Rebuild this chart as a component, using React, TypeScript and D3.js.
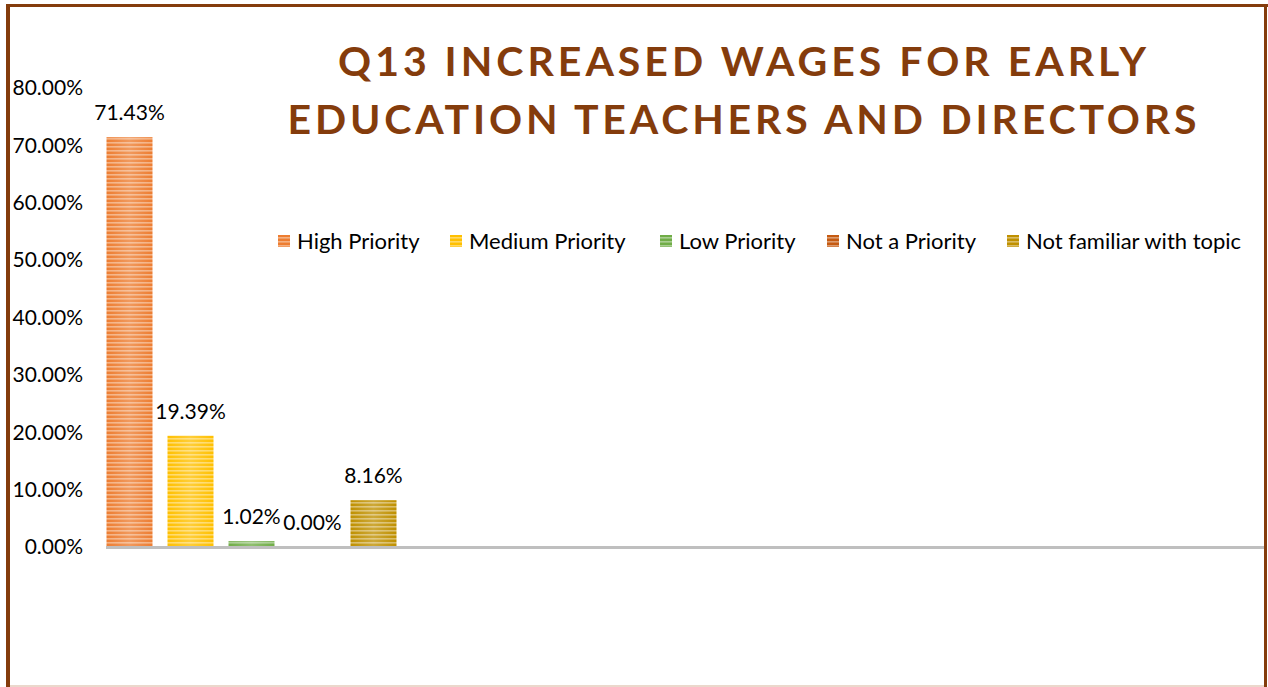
import React from 'react';
import * as d3 from 'd3';

// Chart data
const seriesNames = ['High Priority', 'Medium Priority', 'Low Priority', 'Not a Priority', 'Not familiar with topic'];
const seriesValues = [71.43, 19.39, 1.02, 0.0, 8.16];
const seriesColors = ['#ED7D31', '#FFC000', '#70AD47', '#C55A11', '#BF9000'];
const yTicks = [0, 10, 20, 30, 40, 50, 60, 70, 80];
const titleLines = ['Q13 INCREASED WAGES FOR EARLY', 'EDUCATION TEACHERS AND DIRECTORS'];

const W = 1268;
const H = 687;
const FONT = "Lato, 'Open Sans', sans-serif";

const App: React.FC = () => {
  const y = d3.scaleLinear().domain([0, 80]).range([547, 88]);
  const x = d3
    .scaleBand<string>()
    .domain(seriesNames)
    .range([99, 404])
    .paddingInner(0.246)
    .paddingOuter(0.123);

  // legend square positions
  const legendX = [278, 450, 660, 827, 1007];

  return (
    <div style={{ position: 'absolute', left: 0, top: 0 }}>
      <svg width={W} height={H} style={{ display: 'block', background: '#fff' }}>
        <defs>
          {seriesColors.map((c, i) => (
            <React.Fragment key={i}>
              <pattern id={`stripe${i}`} width={4} height={4} patternUnits="userSpaceOnUse">
                <rect width={4} height={4} fill={c} />
                <rect y={2} width={4} height={1.6} fill="#fff" opacity={0.4} />
              </pattern>
              <linearGradient id={`shade${i}`} x1="0" x2="1" y1="0" y2="0">
                <stop offset="0" stopColor="#fff" stopOpacity={0} />
                <stop offset="0.5" stopColor="#fff" stopOpacity={0.22} />
                <stop offset="1" stopColor="#fff" stopOpacity={0} />
              </linearGradient>
            </React.Fragment>
          ))}
        </defs>

        {/* frame */}
        <rect x={6} y={4} width={4} height={H - 4} fill="#843C0C" />
        <rect x={6} y={4} width={1262} height={3} fill="#843C0C" />
        <rect x={1264} y={4} width={3} height={H - 4} fill="#843C0C" />
        <rect x={10} y={685} width={1254} height={2} fill="#EBD8CC" />

        {/* title */}
        {titleLines.map((t, i) => (
          <text
            key={t}
            x={742}
            y={i === 0 ? 76 : 134}
            textAnchor="middle"
            fontFamily={FONT}
            fontWeight={700}
            fontSize={41}
            fill="#843C0C"
            textLength={i === 0 ? 808 : 909}
            lengthAdjust="spacing"
          >
            {t}
          </text>
        ))}

        {/* y axis labels */}
        {yTicks.map((t) => (
          <text
            key={t}
            x={83}
            y={y(t)}
            dy="0.35em"
            textAnchor="end"
            fontFamily={FONT}
            fontSize={21}
            fill="#000"
          >
            {t.toFixed(2)}%
          </text>
        ))}

        {/* bars */}
        {seriesNames.map((s, i) => {
          const bx = x(s) || 0;
          const by = y(seriesValues[i]);
          const bh = y(0) - by;
          return (
            <g key={s}>
              <rect x={bx} y={by} width={x.bandwidth()} height={bh} fill={`url(#stripe${i})`} />
              <rect x={bx} y={by} width={x.bandwidth()} height={bh} fill={`url(#shade${i})`} />
              <text
                x={bx + x.bandwidth() / 2}
                y={by - 17}
                textAnchor="middle"
                fontFamily={FONT}
                fontSize={21}
                fill="#000"
              >
                {seriesValues[i].toFixed(2)}%
              </text>
            </g>
          );
        })}

        {/* baseline */}
        <line x1={106} x2={1264} y1={y(0) + 0.5} y2={y(0) + 0.5} stroke="#BFBFBF" strokeWidth={3} />

        {/* legend */}
        {seriesNames.map((s, i) => (
          <g key={s} transform={`translate(${legendX[i]},235)`}>
            <rect width={12} height={12} fill={`url(#stripe${i})`} />
            <text x={19} y={6} dy="0.35em" fontFamily={FONT} fontSize={22} fill="#000">
              {s}
            </text>
          </g>
        ))}
      </svg>
    </div>
  );
};

export default App;
